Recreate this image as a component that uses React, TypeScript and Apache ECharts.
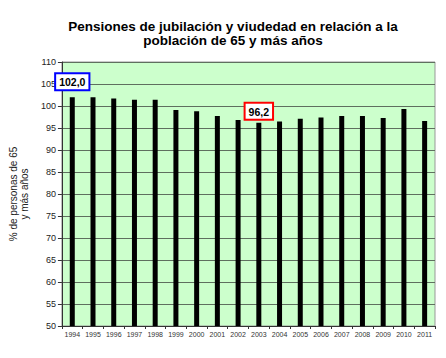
import React, { useEffect, useRef } from "react";
import * as echarts from "echarts";

const years = ["1994","1995","1996","1997","1998","1999","2000","2001","2002","2003","2004","2005","2006","2007","2008","2009","2010","2011"];
const values = [102.0, 102.0, 101.7, 101.4, 101.4, 99.1, 98.8, 97.7, 96.8, 96.2, 96.5, 97.1, 97.4, 97.7, 97.7, 97.3, 99.3, 96.6];
const highlighted: Record<string, string> = { "1994": "#0000ff", "2003": "#ff0000" };
const labelDistance: Record<string, number> = { "1994": 8, "2003": 4 };
const titleText = "Pensiones de jubilación y viudedad en relación a la\npoblación de 65 y más años";
const yAxisName = "% de personas de 65\ny más años";

export default function App() {
  const ref = useRef<HTMLDivElement>(null);
  useEffect(() => {
    if (!ref.current) return;
    const chart = echarts.init(ref.current, null, { renderer: "svg" });
    const data = values.map((v, i) => {
      const y = years[i];
      if (highlighted[y]) {
        return {
          value: v,
          label: {
            show: true,
            position: "top",
            distance: labelDistance[y],
            formatter: (p: any) => Number(p.value).toFixed(1).replace(".", ","),
            fontFamily: "Liberation Sans, Arial, sans-serif",
            fontWeight: "bold",
            fontSize: 10.5,
            color: "#000",
            backgroundColor: "#fff",
            borderColor: highlighted[y],
            borderWidth: 2,
            padding: [2, 3, 1, 3],
            lineHeight: 12,
          },
        };
      }
      return v;
    });
    chart.setOption({
      animation: false,
      backgroundColor: "#fff",
      title: {
        text: titleText,
        left: 228,
        textAlign: "center",
        top: 14,
        textStyle: {
          fontFamily: "Liberation Sans, Arial, sans-serif",
          fontWeight: "bold",
          fontSize: 13.5,
          lineHeight: 14,
          color: "#000",
        },
      },
      grid: {
        left: 55,
        right: 11,
        top: 62,
        bottom: 32,
        show: true,
        backgroundColor: "#ccffcc",
        borderColor: "#999",
        borderWidth: 1,
      },
      xAxis: {
        type: "category",
        data: years,
        boundaryGap: true,
        axisLine: { lineStyle: { color: "#333", width: 1 } },
        axisTick: { show: true, interval: 0, length: 3, lineStyle: { color: "#333" } },
        axisLabel: {
          interval: 0,
          fontSize: 7,
          color: "#333",
          margin: 5,
          fontFamily: "Liberation Sans, Arial, sans-serif",
        },
      },
      yAxis: {
        type: "value",
        min: 50,
        max: 110,
        interval: 5,
        name: yAxisName,
        nameLocation: "middle",
        nameRotate: 90,
        nameGap: 29,
        nameTextStyle: {
          fontFamily: "Liberation Sans, Arial, sans-serif",
          fontSize: 10,
          lineHeight: 11,
          color: "#222",
        },
        axisLine: { show: true, lineStyle: { color: "#333", width: 1 } },
        axisTick: { show: true, length: 4, lineStyle: { color: "#333" } },
        axisLabel: {
          fontSize: 9,
          color: "#222",
          margin: 6,
          fontFamily: "Liberation Sans, Arial, sans-serif",
        },
        splitLine: { show: true, lineStyle: { color: "#5f6f5f", width: 1 } },
      },
      series: [
        {
          type: "bar",
          data,
          barWidth: 5,
          itemStyle: { color: "#000" },
        },
      ],
    });
    return () => chart.dispose();
  }, []);
  return (
    <div
      ref={ref}
      style={{ position: "fixed", left: 0, top: 0, width: 446, height: 358 }}
    />
  );
}
